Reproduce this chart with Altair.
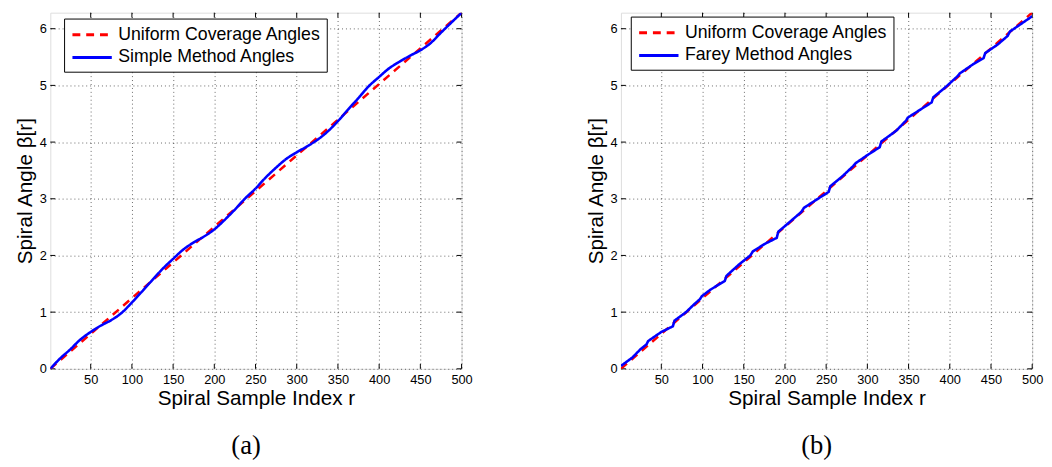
import math
import altair as alt
import pandas as pd

TWO_PI = 2 * math.pi

uniform_label = "Uniform Coverage Angles"
simple_label = "Simple Method Angles"
farey_label = "Farey Method Angles"

uniform_r = [1, 500]
uniform_b = [0.0, TWO_PI]

simple_r = [1, 12, 25, 37, 50, 62, 75, 87, 100, 112, 125, 137, 150, 162, 175, 187,
            200, 212, 225, 237, 250, 262, 275, 287, 300, 312, 325, 337, 350, 362,
            375, 387, 400, 412, 425, 437, 450, 462, 475, 487, 500]
simple_b = [0.0, 0.17, 0.34, 0.51, 0.65, 0.76, 0.86, 0.98, 1.17, 1.36, 1.57, 1.76,
            1.94, 2.10, 2.23, 2.33, 2.46, 2.62, 2.81, 3.00, 3.18, 3.37, 3.55, 3.70,
            3.82, 3.92, 4.04, 4.18, 4.37, 4.57, 4.78, 4.98, 5.15, 5.30, 5.42, 5.52,
            5.62, 5.74, 5.93, 6.10, 6.28]

farey_r = [1, 15, 25, 32, 34, 50, 64, 66, 80, 90, 97, 99, 110, 127, 129, 145, 158,
           161, 175, 190, 192, 205, 220, 223, 240, 253, 255, 270, 283, 286, 300,
           315, 317, 335, 347, 349, 365, 378, 380, 395, 410, 412, 428, 441, 443,
           458, 470, 473, 490, 500]
farey_b = [0.05, 0.20, 0.35, 0.43, 0.49, 0.65, 0.75, 0.85, 1.00, 1.14, 1.23, 1.28,
           1.40, 1.55, 1.64, 1.85, 2.00, 2.07, 2.20, 2.31, 2.42, 2.58, 2.77, 2.84,
           3.00, 3.12, 3.22, 3.40, 3.58, 3.63, 3.77, 3.91, 4.01, 4.20, 4.38, 4.43,
           4.58, 4.70, 4.79, 4.97, 5.17, 5.21, 5.37, 5.48, 5.57, 5.72, 5.87, 5.95,
           6.12, 6.22]

x_ticks = [50, 100, 150, 200, 250, 300, 350, 400, 450, 500]
y_ticks = [0, 1, 2, 3, 4, 5, 6]

W, H = 418, 362
FONT = "Liberation Sans"


def panel(method_label, r_list, b_list, interp, lx, ly, caption):
    df_u = pd.DataFrame({"r": uniform_r, "b": uniform_b, "series": uniform_label})
    df_m = pd.DataFrame({"r": r_list, "b": b_list, "series": method_label})
    domain = [uniform_label, method_label]
    legend = alt.Legend(
        title=None, orient="none", legendX=lx, legendY=ly,
        symbolType="M-2,0L2,0", symbolSize=400, symbolStrokeWidth=3,
        symbolOffset=12,
        labelFontSize=18, labelFont=FONT, labelColor="black", labelLimit=500,
        labelOffset=15, rowPadding=2, padding=5,
        strokeColor="black", fillColor="white",
    )
    color = alt.Color("series:N", scale=alt.Scale(domain=domain, range=["#ff0000", "#0000ff"]),
                      legend=legend)
    dash = alt.StrokeDash("series:N", scale=alt.Scale(domain=domain, range=[[8, 6], [1, 0]]),
                          legend=legend)
    grid_kw = dict(grid=True, domain=False, ticks=False, gridDash=[1, 3], gridColor="black",
                   gridOpacity=0.6, gridWidth=1, labelFont=FONT, labelFontSize=13,
                   labelColor="black", labelFlush=False, labelOverlap=False,
                   titleFont=FONT, titleFontSize=21, titleFontWeight="normal",
                   titleColor="black")
    x = alt.X("r:Q", scale=alt.Scale(domain=[1, 500], nice=False, zero=False),
              axis=alt.Axis(values=x_ticks, labelPadding=5, titlePadding=1, **grid_kw),
              title="Spiral Sample Index r")
    y = alt.Y("b:Q", scale=alt.Scale(domain=[0, TWO_PI], nice=False),
              axis=alt.Axis(values=y_ticks, format="d", labelPadding=4, titlePadding=4, **grid_kw),
              title="Spiral Angle β[r]")

    red = alt.Chart(df_u).mark_line(strokeWidth=2.5, clip=True).encode(
        x=x, y=y, color=color, strokeDash=dash)
    blue = alt.Chart(df_m).mark_line(strokeWidth=2.6, clip=True,
                                     interpolate=interp).encode(
        x=x, y=y, color=color, strokeDash=dash)

    xt = pd.DataFrame({"r": x_ticks})
    yt = pd.DataFrame({"b": y_ticks})
    tick_top = alt.Chart(xt).mark_rule(color="black", strokeWidth=1).encode(
        x=x, y=alt.value(0), y2=alt.value(5))
    tick_bot = alt.Chart(xt).mark_rule(color="black", strokeWidth=1).encode(
        x=x, y=alt.value(H), y2=alt.value(H - 5))
    tick_left = alt.Chart(yt).mark_rule(color="black", strokeWidth=1).encode(
        y=y, x=alt.value(0), x2=alt.value(5))
    tick_right = alt.Chart(yt).mark_rule(color="black", strokeWidth=1).encode(
        y=y, x=alt.value(W), x2=alt.value(W - 5))

    return alt.layer(tick_top, tick_bot, tick_left, tick_right, red, blue).properties(
        width=W, height=H,
        title=alt.TitleParams(caption, orient="bottom", font="Liberation Serif",
                              fontSize=27, fontWeight="normal", color="black",
                              offset=26, dx=-10),
    )


pa = panel(simple_label, simple_r, simple_b, "monotone", 14, 6, "(a)")
pb = panel(farey_label, farey_r, farey_b, "linear", 10, 4, "(b)")

chart = alt.hconcat(pa, pb, spacing=113).resolve_scale(
    color="independent", strokeDash="independent", x="independent", y="independent"
).resolve_legend(color="independent", strokeDash="independent").properties(
    padding={"left": 6, "top": 0, "right": 0, "bottom": 0}
).configure_view(stroke="black", strokeWidth=1.2).configure(background="white")

chart.save("out.html", embed_options={"renderer": "svg", "actions": False})
